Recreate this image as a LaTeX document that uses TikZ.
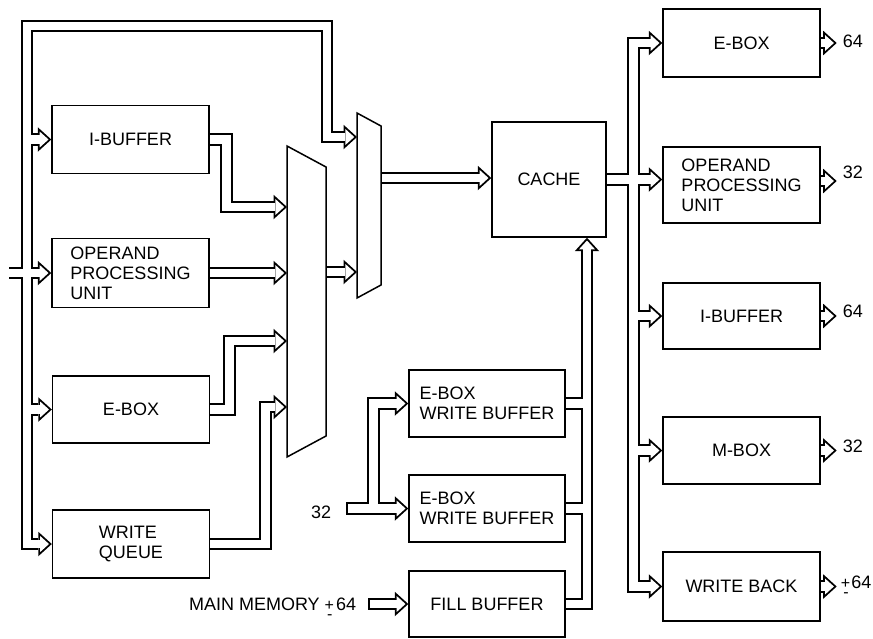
\documentclass[tikz,border=0pt]{standalone}
\usepackage{fontspec}
\setmainfont{Liberation Sans}
\usetikzlibrary{arrows.meta}

\pgfdeclarelayer{bg}
\pgfsetlayers{bg,main}

\tikzset{
  unit/.style={draw,line width=1.4pt,minimum width=157pt,minimum height=68pt,inner sep=0pt,align=left},
  mux/.style={draw,line width=1.5pt,line join=miter},
  lbl/.style={inner sep=0pt},
}

\newcommand\pmstack{{\fontsize{16}{16}\selectfont\rlap{\raisebox{-0.55em}[0pt][0pt]{\kern0.15em-}}+}}

% every bus of the drawing; drawn once as outline, once as hollow
\newcommand\busnet{%
  \draw[bus,tip] (inl) -- (opu.west);
  \draw[bus,tip] (lt) -- (lt |- wq.west) -- (wq.west);
  \draw[bus,tip] (lt |- ib.west) -- (lt) -- (tr) |- (m2a);
  \draw[bus,tip] (lt |- ib.west) -- (ib.west);
  \draw[bus,tip] (lt |- ebox.west) -- (ebox.west);
  \draw[bus,tip] (ib.east) -- ++(17,0) |- (m1a);
  \draw[bus,tip] (opu.east) -- (m1b);
  \draw[bus,tip] (ebox.east) -- ++(19,0) |- (m1c);
  \draw[bus,tip] (wq.east) -- ++(55,0) |- (m1d);
  \draw[bus,tip] (m1o) -- (m2b);
  \draw[bus,tip] (m2o) -- (m2o -| cache.west);
  % buffers up into the cache
  \draw[bus,tip] (fill.east) -| (cin);
  \draw[bus] (wb1.east) -- (wb1.east -| cin);
  \draw[bus] (wb2.east) -- (wb2.east -| cin);
  \draw[bus,tip,closed] (in32) -- (wb2.west);
  \draw[bus,tip] ([xshift=27pt]in32) |- (wb1.west);
  \draw[bus,tip,closed] (inmm) -- (fill.west);
  % cache out
  \draw[bus,tip] (cache.east) -- (cache.east -| ropu.west);
  \draw[bus,tip] (rb) |- (rebox.west);
  \draw[bus,tip] (rb) |- (wback.west);
  \draw[bus,tip] (rb |- rib.west) -- (rib.west);
  \draw[bus,tip] (rb |- mbox.west) -- (mbox.west);
  \draw[bus,tip] (rebox.east) -- ++(16,0);
  \draw[bus,tip] ([yshift=4pt]ropu.east) -- ++(16,0);
  \draw[bus,tip] (rib.east) -- ++(16,0);
  \draw[bus,tip] (mbox.east) -- ++(16,0);
  \draw[bus,tip] (wback.east) -- ++(16,0);
}

\begin{document}
\begin{tikzpicture}[x=1pt,y=-1pt,font=\fontsize{18}{20}\selectfont]
\useasboundingbox (0,0) rectangle (873,638);
% left column
\node[unit] (ib) at (130.5,139.5) {I-BUFFER};
\node[unit,minimum height=69pt] (opu) at (130.5,273) {OPERAND\\PROCESSING\\UNIT};
\node[unit,minimum height=67pt] (ebox) at (131,409.5) {E-BOX};
\node[unit] (wq) at (131,544) {WRITE\\QUEUE};
% muxes
\draw[mux] (287,146) -- (326,167) -- (326,436) -- (287,457) -- cycle;
\draw[mux] (357,113) -- (381,126) -- (381,285) -- (357,298) -- cycle;
\coordinate (m1a) at (287,207);
\coordinate (m1b) at (287,273);
\coordinate (m1c) at (287,341);
\coordinate (m1d) at (287,407);
\coordinate (m1o) at (326,272);
\coordinate (m2a) at (357,137);
\coordinate (m2b) at (357,272);
\coordinate (m2o) at (381,178);
\coordinate (lt) at (27,26);
\coordinate (tr) at (327,26);
\coordinate (inl) at ([xshift=-42pt]opu.west);
% cache and buffers
\node[unit,minimum width=114pt,minimum height=115pt] (cache) at (549,179.5) {CACHE};
\node[unit,minimum width=156pt,minimum height=67pt] (wb1) at (487,403.5) {E-BOX\\WRITE BUFFER};
\node[unit,minimum width=156pt,minimum height=67pt] (wb2) at (487,508.5) {E-BOX\\WRITE BUFFER};
\node[unit,minimum width=156pt,minimum height=66pt] (fill) at (487,604) {FILL BUFFER};
\coordinate (cin) at ([xshift=38pt]cache.south);
\coordinate (in32) at ([xshift=-62pt]wb2.west);
\coordinate (inmm) at ([xshift=-40pt]fill.west);
\node[lbl,anchor=east] (l32) at ([xshift=-15pt,yshift=-4pt]in32) {32};
\node[lbl,anchor=east] (lmm) at ([xshift=-12pt]inmm) {MAIN MEMORY \pmstack\kern2pt64};
% right column
\node[unit] (rebox) at (741.5,43) {E-BOX};
\node[unit,minimum height=76pt] (ropu) at (741.5,185) {OPERAND\\PROCESSING\\UNIT};
\node[unit,minimum height=66pt] (rib) at (741.5,316) {I-BUFFER};
\node[unit,minimum height=67pt] (mbox) at (741.5,450.5) {M-BOX};
\node[unit,minimum height=69pt] (wback) at (741.5,586.5) {WRITE BACK};
\coordinate (rb) at ([xshift=27pt]cache.east);
\node[lbl,anchor=west] (o1) at ([xshift=22pt,yshift=2pt]rebox.east) {64};
\node[lbl,anchor=west] (o2) at ([xshift=22pt,yshift=13pt]ropu.east) {32};
\node[lbl,anchor=west] (o3) at ([xshift=22pt,yshift=5pt]rib.east) {64};
\node[lbl,anchor=west] (o4) at ([xshift=22pt,yshift=4pt]mbox.east) {32};
\node[lbl,anchor=west] (o5) at ([xshift=20pt,yshift=4pt]wback.east) {\pmstack\kern1pt64};
% buses: outline first, then the hollow inside
\begin{pgfonlayer}{bg}
\begin{scope}[bus/.style={line width=12.6pt},
  tip/.style={-{Triangle[width=24.5pt,length=13.5pt,line width=0pt]}},
  closed/.style={}]
\busnet
\end{scope}
\begin{scope}[bus/.style={line width=8.8pt,white},
  tip/.style={-{Triangle[width=15.9pt,length=8.8pt,line width=0pt]},shorten >=2.8pt},
  closed/.style={shorten <=1.9pt}]
\busnet
\end{scope}
\end{pgfonlayer}
\end{tikzpicture}
\end{document}
